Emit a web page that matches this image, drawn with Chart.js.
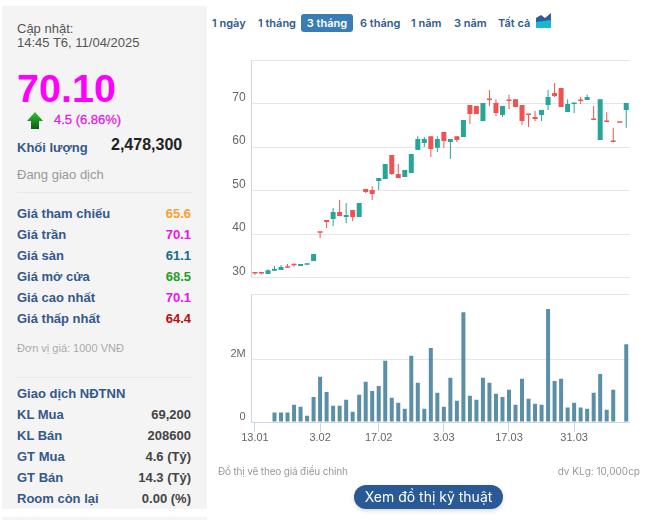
<!DOCTYPE html>
<html lang="vi">
<head>
<meta charset="utf-8">
<title>Đồ thị giá</title>
<script src="https://cdn.jsdelivr.net/npm/chart.js@4"></script>
<style>
html, body { margin: 0; padding: 0; background: #fff; }
body { width: 659px; height: 520px; position: relative; overflow: hidden; font-family: "Liberation Sans", Arial, sans-serif; }
.panel { position: absolute; left: 2px; width: 205px; background: #f4f4f4; }
.t { position: absolute; white-space: nowrap; line-height: 16px; height: 16px; }
.lbl { left: 17px; font-size: 13px; font-weight: bold; color: #34588a; }
.val { right: 468px; font-size: 13px; font-weight: bold; text-align: right; }
.rule { position: absolute; left: 17px; width: 175px; height: 1px; background: #e8e8e8; }
.nav { top: 14px; height: 18px; line-height: 18px; font-family: Inter, sans-serif; font-size: 11px; font-weight: 600; color: #2f5a8c; }
.nav.on { left: 301px; width: 52px; text-align: center; background: #3a7cb5; color: #fff; border-radius: 3px; }
.note { font-family: Inter, sans-serif; font-size: 10px; color: #999; }
canvas { position: absolute; }
#btn { position: absolute; left: 354px; top: 485px; width: 149px; height: 24px; line-height: 24px; border-radius: 12px; background: #2a5a96; color: #fff; text-align: center; font-family: Inter, sans-serif; font-size: 14px; box-shadow: 0 2px 4px rgba(0,0,0,.15); }
</style>
</head>
<body>
<div class="panel" style="top:6px;height:503px"></div>
<div class="panel" style="top:517px;height:3px"></div>

<div class="t" style="left:17px;top:21px;font-size:13px;color:#555">Cập nhật:</div>
<div class="t" style="left:17px;top:35px;font-size:13px;color:#555">14:45 T6, 11/04/2025</div>
<div class="t" style="left:17px;top:68px;height:40px;line-height:40px;font-size:39.5px;font-weight:bold;color:#ff00ff">70.10</div>
<svg style="position:absolute;left:27px;top:112px" width="16" height="17" viewBox="0 0 16 17">
  <defs><linearGradient id="ag" x1="0" y1="0" x2="0" y2="1"><stop offset="0" stop-color="#39c23a"/><stop offset="1" stop-color="#0a5a10"/></linearGradient></defs>
  <path d="M8 0 L16 9 L12 9 L12 17 L4 17 L4 9 L0 9 Z" fill="url(#ag)"/>
</svg>
<div class="t" style="left:54px;top:112px;font-size:13px;color:#e020e0;-webkit-text-stroke:0.3px #e020e0">4.5 (6.86%)</div>
<div class="t lbl" style="top:140px">Khối lượng</div>
<div class="t" style="left:111px;top:137px;font-size:16px;font-weight:bold;color:#222">2,478,300</div>
<div class="t" style="left:17px;top:167px;font-size:13px;color:#999">Đang giao dịch</div>
<div class="rule" style="top:192px"></div>
<div id="rows"></div>
<div class="t" style="left:17px;top:340px;font-size:11px;color:#aaa">Đơn vị giá: 1000 VNĐ</div>
<div class="rule" style="top:377px"></div>

<div class="t nav" style="left:212px">1 ngày</div>
<div class="t nav" style="left:258px">1 tháng</div>
<div class="t nav on">3 tháng</div>
<div class="t nav" style="left:360px">6 tháng</div>
<div class="t nav" style="left:411px">1 năm</div>
<div class="t nav" style="left:454px">3 năm</div>
<div class="t nav" style="left:498px">Tất cả</div>
<svg style="position:absolute;left:536px;top:13px" width="16" height="16" viewBox="0 0 16 16">
  <path d="M0 5 L5 2 L9 5 L15 0 L15 9 L0 9 Z" fill="#2f5a9c"/>
  <path d="M0 9 L15 7 L15 15 L0 15 Z" fill="#18b8d0"/>
</svg>

<canvas id="price-chart" style="left:210px;top:50px"></canvas>
<canvas id="volume-chart" style="left:210px;top:285px"></canvas>

<div class="t note" style="left:218px;top:463px;letter-spacing:-0.17px">Đồ thị vẽ theo giá điều chỉnh</div>
<div class="t note" style="right:19px;top:463px">dv KLg: 10,000cp</div>
<div id="btn">Xem đồ thị kỹ thuật</div>

<script>
const dates = ['13.01','14.01','15.01','16.01','17.01','20.01','21.01','22.01','23.01','24.01',
    '3.02','4.02','5.02','6.02','7.02','10.02','11.02','12.02','13.02','17.02',
    '18.02','19.02','20.02','21.02','24.02','25.02','26.02','27.02','28.02','3.03',
    '4.03','5.03','6.03','7.03','10.03','11.03','12.03','13.03','14.03','17.03',
    '18.03','19.03','20.03','21.03','24.03','25.03','26.03','27.03','28.03','31.03',
    '1.04','2.04','3.04','4.04','8.04','9.04','10.04','11.04'];
const shownDates = ['13.01','3.02','17.02','3.03','17.03','31.03'];

const opens = [31.0,31.0,30.8,31.57,31.7,32.4,32.95,32.65,32.95,33.8,
    40.45,43.2,43.45,45.05,43.9,45.5,43.9,50.35,50.1,52.2,
    52.65,58.15,53.8,53.1,54.0,59.3,60.9,62.5,59.8,63.45,
    61.15,62.5,62.3,69.65,69.4,66.0,71.0,70.1,67.35,70.8,
    71.0,69.65,67.6,66.9,67.35,69.65,72.4,73.55,68.05,69.9,
    70.8,70.8,66.45,61.6,66.0,61.4,65.75,68.5];
const closes = [30.9,30.9,31.65,31.95,32.4,32.25,32.8,33.1,33.1,35.4,
    40.3,42.75,45.05,44.15,44.35,43.9,47.1,49.65,49.2,52.85,
    56.1,53.8,52.85,54.7,58.4,61.85,61.85,59.55,61.85,61.4,
    61.85,61.6,66.2,67.6,67.6,70.1,70.8,67.8,69.4,70.6,
    69.2,66.0,67.35,66.45,68.5,71.5,71.7,69.2,69.9,70.1,
    70.6,71.5,66.2,71.0,65.75,61.15,65.6,70.1];
const highs = [31.0,31.0,31.9,32.65,32.9,33.1,33.2,33.1,33.3,35.4,
    40.45,43.2,46.0,47.8,47.1,45.5,47.1,50.35,51.0,52.85,
    56.1,58.15,56.1,54.7,58.4,62.5,62.3,62.5,62.5,63.45,
    61.85,62.5,66.2,69.65,69.4,70.1,73.1,71.0,69.4,72.0,
    71.0,69.65,67.6,68.3,68.5,73.1,74.7,73.55,71.0,70.1,
    71.5,72.0,69.4,71.0,68.0,64.4,65.75,70.1];
const lows = [30.65,30.7,30.8,31.57,31.7,32.25,32.5,32.65,32.95,33.8,
    39.1,41.4,41.85,44.15,42.5,43.0,43.9,49.4,47.8,50.1,
    52.65,53.55,52.85,53.1,54.0,59.3,60.0,57.7,58.85,59.8,
    57.25,61.15,62.3,65.3,67.6,66.0,69.4,67.1,66.9,68.75,
    69.2,65.05,64.6,66.0,66.0,68.5,71.5,69.2,68.05,67.8,
    69.9,70.8,66.2,61.6,65.75,61.15,65.6,64.4];
const volumes = [0,0,0,300000,300000,300000,550000,490000,200000,800000,
    1440000,960000,520000,520000,710000,330000,870000,1280000,990000,1150000,
    1950000,770000,610000,420000,2110000,1250000,420000,2360000,930000,490000,
    1410000,680000,3500000,840000,710000,1410000,1250000,900000,800000,1030000,
    550000,1380000,740000,580000,550000,3600000,1310000,1380000,460000,610000,
    460000,420000,930000,1530000,390000,1030000,0,2478300];

const priceMin = 30;
const priceMax = 80;
const priceTicks = [30, 40, 50, 60, 70];
const volumeMax = 4080000;
const volumeTicks = [0, 2000000];

const priceRows = [
    ['Giá tham chiếu', '65.6', '#f7a030'],
    ['Giá trần', '70.1', '#ee10ee'],
    ['Giá sàn', '61.1', '#1a6a8c'],
    ['Giá mở cửa', '68.5', '#22a020'],
    ['Giá cao nhất', '70.1', '#ee10ee'],
    ['Giá thấp nhất', '64.4', '#b81010']
];
const foreignRows = [
    ['Giao dịch NĐTNN', '', '#444'],
    ['KL Mua', '69,200', '#444'],
    ['KL Bán', '208600', '#444'],
    ['GT Mua', '4.6 (Tỷ)', '#444'],
    ['GT Bán', '14.3 (Tỷ)', '#444'],
    ['Room còn lại', '0.00 (%)', '#444']
];

// left panel rows
function addRows(list, firstCenter) {
    const box = document.getElementById('rows');
    list.forEach((row, i) => {
        const top = firstCenter + i * 21 - 7;
        const l = document.createElement('div');
        l.className = 't lbl';
        l.style.top = top + 'px';
        l.textContent = row[0];
        box.appendChild(l);
        const v = document.createElement('div');
        v.className = 't val';
        v.style.top = top + 'px';
        v.style.color = row[2];
        v.textContent = row[1];
        box.appendChild(v);
    });
}
addRows(priceRows, 213);
addRows(foreignRows, 393);

const UP = '#26a69a';
const DOWN = '#ef5350';
const candleColors = closes.map((c, i) => c >= opens[i] ? UP : DOWN);
const GRID = '#e6e6e6';
const AXIS = '#ccd6eb';
const FONT_FAMILY = '"Liberation Sans", Arial, sans-serif';

// same plot edges on both charts, labels must not push the plot in
function fixYAxis(scale) {
    scale.width = 41.7;
    scale.paddingTop = 0;
    scale.paddingBottom = 0;
}

const priceCanvas = document.getElementById('price-chart');
priceCanvas.width = 430;
priceCanvas.height = 235;
new Chart(priceCanvas, {
    type: 'bar',
    data: {
        labels: dates,
        datasets: [
            {
                label: 'Bóng nến',
                data: dates.map((d, i) => [lows[i], highs[i]]),
                backgroundColor: candleColors,
                barThickness: 1,
                inflateAmount: 0,
                grouped: false
            },
            {
                label: 'Thân nến',
                data: dates.map((d, i) => [opens[i], closes[i]]),
                backgroundColor: candleColors,
                barThickness: 5,
                minBarLength: 1.5,
                inflateAmount: 0,
                grouped: false
            }
        ]
    },
    options: {
        responsive: false,
        animation: false,
        devicePixelRatio: 1,
        layout: { padding: { top: 10, right: 10.5, bottom: 7.5, left: 0 } },
        plugins: { legend: { display: false }, tooltip: { enabled: false } },
        scales: {
            x: { display: false, offset: true },
            y: {
                min: priceMin,
                max: priceMax,
                afterFit: fixYAxis,
                afterBuildTicks: scale => { scale.ticks = priceTicks.concat(priceMax).map(v => ({ value: v })); },
                grid: { color: GRID, drawTicks: false },
                border: { display: true, color: AXIS },
                ticks: {
                    color: '#666',
                    font: { family: FONT_FAMILY, size: 12 },
                    padding: 6,
                    labelOffset: -6,
                    callback: v => v === priceMax ? '' : String(v)
                }
            }
        }
    }
});

const volumeCanvas = document.getElementById('volume-chart');
volumeCanvas.width = 430;
volumeCanvas.height = 185;
new Chart(volumeCanvas, {
    type: 'bar',
    data: {
        labels: dates,
        datasets: [{
            label: 'Khối lượng',
            data: volumes,
            backgroundColor: '#5b8fa8',
            barThickness: 4,
            inflateAmount: 0
        }]
    },
    options: {
        responsive: false,
        animation: false,
        devicePixelRatio: 1,
        layout: { padding: { top: 9, right: 10.5, bottom: 18, left: 0 } },
        plugins: { legend: { display: false }, tooltip: { enabled: false } },
        scales: {
            x: {
                offset: true,
                afterFit: scale => { scale.height = 30; },
                afterBuildTicks: scale => {
                    scale.ticks = shownDates.map(d => ({ value: dates.indexOf(d) }));
                },
                grid: { drawOnChartArea: false, offset: false, color: AXIS, tickLength: 10 },
                border: { color: AXIS },
                ticks: {
                    autoSkip: false,
                    maxRotation: 0,
                    color: '#666',
                    font: { family: FONT_FAMILY, size: 11 },
                    padding: -1
                }
            },
            y: {
                min: 0,
                max: volumeMax,
                afterFit: fixYAxis,
                afterBuildTicks: scale => { scale.ticks = volumeTicks.concat(volumeMax).map(v => ({ value: v })); },
                grid: { color: GRID, drawTicks: false },
                border: { display: true, color: AXIS },
                ticks: {
                    color: '#666',
                    font: { family: FONT_FAMILY, size: 11 },
                    padding: 6,
                    labelOffset: -5,
                    callback: v => v === 0 ? '0' : (v === 2000000 ? '2M' : '')
                }
            }
        }
    }
});
</script>
</body>
</html>
